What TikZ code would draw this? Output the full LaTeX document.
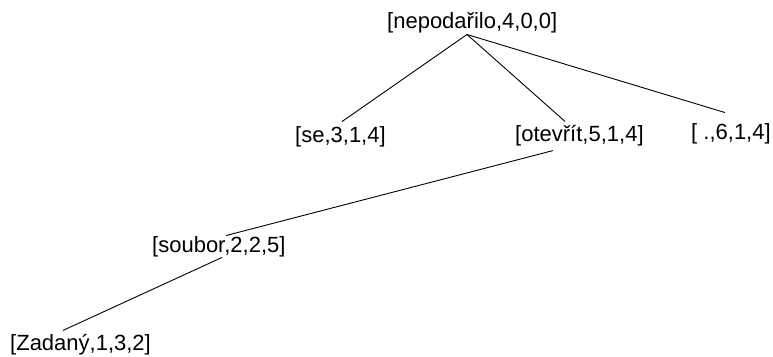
\documentclass[tikz,border=0pt]{standalone}
\usepackage{fontspec}
\setmainfont{Liberation Sans}
\usetikzlibrary{calc}
\begin{document}
\begin{tikzpicture}[x=1pt,y=-1pt,
  lbl/.style={anchor=west,inner sep=0pt,font=\fontsize{22}{26}\selectfont},
  edge/.style={line width=0.9pt,black}]
\useasboundingbox (0,0) rectangle (773,356);
\node[lbl] (root) at (387,23) {[nepodařilo,4,0,0]};
\node[lbl] (se) at (295,137) {[se,3,1,4]};
\node[lbl] (ot) at (515,136) {[otevřít,5,1,4]};
\node[lbl] (dot) at (691,134) {[ .,6,1,4]};
\node[lbl] (so) at (152,247) {[soubor,2,2,5]};
\node[lbl] (za) at (10,345) {[Zadaný,1,3,2]};
\coordinate (rootB) at ($(root.south west)+(80,1)$);
\draw[edge] (rootB) -- ($(se.north west)+(47,-5)$);
\draw[edge] (rootB) -- ($(ot.north west)+(50,-4)$);
\draw[edge] (rootB) -- ($(dot.north west)+(34,-11)$);
\draw[edge] ($(ot.south west)+(38,4)$) -- ($(so.north west)+(74,-1)$);
\draw[edge] ($(so.south west)+(70,0)$) -- ($(za.north west)+(53,-4)$);
\end{tikzpicture}
\end{document}
